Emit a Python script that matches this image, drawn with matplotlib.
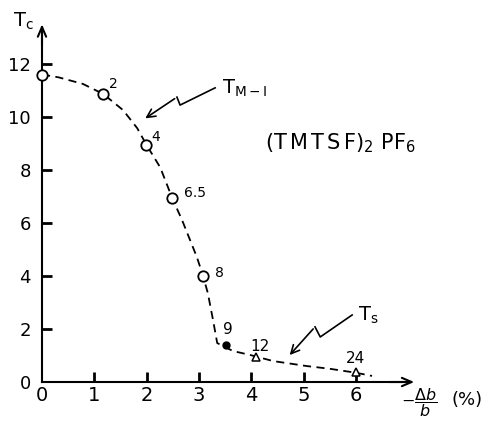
import matplotlib
matplotlib.use("Agg")
import matplotlib.pyplot as plt

# dashed guide curve (upper branch T_M-I, lower branch T_s)
curve_x = [0, 0.31, 0.78, 1.17, 1.55, 1.82, 2.0, 2.26, 2.49, 2.68, 2.96, 3.08, 3.17, 3.27, 3.35,
           3.65, 3.98, 4.42, 5.07, 5.5, 6.0, 6.31]
curve_y = [11.6, 11.5, 11.25, 10.87, 10.26, 9.58, 8.94, 8.1, 6.94, 6.1, 4.72, 4.0, 3.36, 2.34, 1.47,
           1.17, 1.02, 0.79, 0.6, 0.5, 0.35, 0.23]

# open circles: metal-insulator transition
mi_x = [0, 1.17, 1.99, 2.49, 3.08]
mi_y = [11.6, 10.87, 8.94, 6.94, 4.0]
mi_lab = ["", "2", "4", "6.5", "8"]

# filled point
full_x = [3.52]
full_y = [1.4]
full_lab = ["9"]

# triangles: superconducting
sc_x = [4.09, 6.0]
sc_y = [0.94, 0.38]
sc_lab = ["12", "24"]

xticks = [0, 1, 2, 3, 4, 5, 6]
yticks = [0, 2, 4, 6, 8, 10, 12]

fig = plt.figure(figsize=(4.93, 4.22), dpi=100)
ax = fig.add_axes([0, 0, 1, 1])
ax.set_xlim(-0.803, 8.623)
ax.set_ylim(-1.509, 14.415)

for s in ["top", "right"]:
    ax.spines[s].set_visible(False)
ax.spines["left"].set_position(("data", 0))
ax.spines["bottom"].set_position(("data", 0))
ax.spines["left"].set_bounds(0, 13.4)
ax.spines["bottom"].set_bounds(0, 7.0)
ax.spines["left"].set_linewidth(1.5)
ax.spines["bottom"].set_linewidth(1.5)

# arrow heads on both axes
ax.annotate("", xy=(0, 13.6), xytext=(0, 12.6),
            arrowprops=dict(arrowstyle="->,head_length=0.7,head_width=0.3", lw=1.5, color="black"))
ax.annotate("", xy=(7.17, 0), xytext=(6.6, 0),
            arrowprops=dict(arrowstyle="->,head_length=0.7,head_width=0.3", lw=1.5, color="black"))

ax.set_xticks(xticks)
ax.set_yticks(yticks)
ax.tick_params(axis="y", direction="in", length=7, width=2, pad=8, labelsize=13)
ax.tick_params(axis="x", direction="in", length=7, width=2, pad=3, labelsize=14)
ax.yaxis.get_major_ticks()[0].tick1line.set_visible(False)
ax.xaxis.get_major_ticks()[0].tick1line.set_visible(False)

line, = ax.plot(curve_x, curve_y, color="black", lw=1.3, zorder=3)
line.set_dashes((4.5, 3))

ax.plot(mi_x, mi_y, "o", ms=7.5, mfc="white", mec="black", mew=1.3, ls="none", zorder=5, clip_on=False)
ax.plot(full_x, full_y, "o", ms=5, color="black", ls="none", zorder=5)
ax.plot(sc_x, sc_y, "^", ms=6, mfc="white", mec="black", mew=1.1, ls="none", zorder=5)

offs = [(0, 0), (10, 10), (10, 8), (23, 5), (16, 3)]
for x, y, t, o in zip(mi_x, mi_y, mi_lab, offs):
    if t:
        ax.annotate(t, (x, y), xytext=o, textcoords="offset pixels",
                    ha="center", va="center", fontsize=10)
for x, y, t in zip(full_x, full_y, full_lab):
    ax.annotate(t, (x, y), xytext=(2, 15), textcoords="offset pixels",
                ha="center", va="center", fontsize=11)
for x, y, t, o in zip(sc_x, sc_y, sc_lab, [(4, 11), (0, 13)]):
    ax.annotate(t, (x, y), xytext=o, textcoords="offset pixels",
                ha="center", va="center", fontsize=11)

# zigzag pointers
ax.plot([3.31, 2.64, 2.58], [11.1, 10.45, 10.75], color="black", lw=1.2)
ax.annotate("", xy=(1.93, 9.89), xytext=(2.58, 10.75),
            arrowprops=dict(arrowstyle="->,head_length=0.6,head_width=0.3", lw=1.2, color="black"))
ax.plot([5.93, 5.32, 5.22], [2.53, 1.70, 2.08], color="black", lw=1.2)
ax.annotate("", xy=(4.70, 0.94), xytext=(5.22, 2.08),
            arrowprops=dict(arrowstyle="->,head_length=0.6,head_width=0.3", lw=1.2, color="black"))

ax.text(-0.36, 13.6, r"$\mathregular{T_c}$", fontsize=14, ha="center", va="center")
ax.text(3.44, 11.1, r"$\mathregular{T_{M-I}}$", fontsize=14, ha="left", va="center")
ax.text(6.23, 2.5, r"$\mathregular{T_s}$", fontsize=14, ha="center", va="center")
ax.text(4.26, 8.79, r"$\mathregular{(T\,M\,T\,S\,F)_2\ PF_6}$", fontsize=15, ha="left", va="baseline")
ax.text(7.22, -0.78, r"$-\dfrac{\Delta b}{b}$", fontsize=11.5, ha="center", va="center")
ax.text(8.12, -0.68, "(%)", fontsize=13, ha="center", va="center")

fig.savefig("out.png", dpi=100)
